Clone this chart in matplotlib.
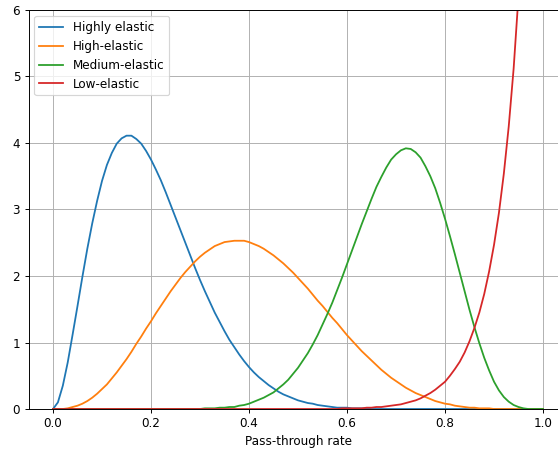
import numpy as np
import matplotlib
matplotlib.use('Agg')
import matplotlib.pyplot as plt

# pass-through rate grid, step 0.01 from 0 to 1
rate = np.linspace(0, 1, 101)

highly_elastic = [
    0.00, 0.10, 0.35, 0.70, 1.12, 1.55, 1.99, 2.41, 2.79, 3.13,
    3.43, 3.67, 3.85, 3.99, 4.07, 4.11, 4.11, 4.06, 3.99, 3.88,
    3.75, 3.60, 3.44, 3.26, 3.07, 2.88, 2.69, 2.50, 2.31, 2.12,
    1.94, 1.77, 1.61, 1.45, 1.31, 1.17, 1.04, 0.93, 0.82, 0.72,
    0.63, 0.55, 0.48, 0.42, 0.36, 0.31, 0.26, 0.22, 0.19, 0.16,
    0.13, 0.11, 0.09, 0.08, 0.06, 0.05, 0.04, 0.03, 0.02, 0.02,
    0.02, 0.01, 0.01, 0.01, 0.01, 0.00, 0.00, 0.00, 0.00, 0.00,
    0.00, 0.00, 0.00, 0.00, 0.00, 0.00, 0.00, 0.00, 0.00, 0.00,
    0.00, 0.00, 0.00, 0.00, 0.00, 0.00, 0.00, 0.00, 0.00, 0.00,
    0.00, 0.00, 0.00, 0.00, 0.00, 0.00, 0.00, 0.00, 0.00, 0.00,
    0.00,
]

high_elastic = [
    0.00, 0.00, 0.00, 0.01, 0.03, 0.05, 0.08, 0.12, 0.17, 0.23,
    0.30, 0.37, 0.46, 0.55, 0.65, 0.75, 0.86, 0.98, 1.09, 1.21,
    1.32, 1.44, 1.55, 1.66, 1.77, 1.87, 1.97, 2.06, 2.14, 2.22,
    2.29, 2.35, 2.40, 2.45, 2.48, 2.51, 2.52, 2.53, 2.53, 2.53,
    2.51, 2.48, 2.45, 2.41, 2.36, 2.31, 2.25, 2.19, 2.12, 2.05,
    1.97, 1.89, 1.81, 1.72, 1.63, 1.55, 1.46, 1.37, 1.29, 1.20,
    1.11, 1.03, 0.95, 0.87, 0.80, 0.73, 0.66, 0.59, 0.53, 0.47,
    0.42, 0.37, 0.32, 0.28, 0.24, 0.21, 0.18, 0.15, 0.12, 0.10,
    0.08, 0.07, 0.05, 0.04, 0.03, 0.02, 0.02, 0.01, 0.01, 0.01,
    0.00, 0.00, 0.00, 0.00, 0.00, 0.00, 0.00, 0.00, 0.00, 0.00,
    0.00,
]

medium_elastic = [
    0.00, 0.00, 0.00, 0.00, 0.00, 0.00, 0.00, 0.00, 0.00, 0.00,
    0.00, 0.00, 0.00, 0.00, 0.00, 0.00, 0.00, 0.00, 0.00, 0.00,
    0.00, 0.00, 0.00, 0.00, 0.00, 0.00, 0.00, 0.00, 0.00, 0.00,
    0.00, 0.01, 0.01, 0.01, 0.02, 0.02, 0.03, 0.03, 0.05, 0.06,
    0.08, 0.11, 0.14, 0.17, 0.21, 0.25, 0.31, 0.37, 0.44, 0.53,
    0.62, 0.73, 0.84, 0.97, 1.11, 1.27, 1.43, 1.60, 1.79, 1.98,
    2.18, 2.38, 2.58, 2.78, 2.97, 3.16, 3.34, 3.49, 3.63, 3.75,
    3.83, 3.89, 3.92, 3.91, 3.86, 3.78, 3.65, 3.50, 3.32, 3.10,
    2.86, 2.60, 2.33, 2.05, 1.77, 1.49, 1.23, 0.99, 0.77, 0.58,
    0.41, 0.28, 0.18, 0.11, 0.06, 0.03, 0.01, 0.00, 0.00, 0.00,
    0.00,
]

# low-elastic keeps rising past the top of the axes, so it stops at 0.96
low_elastic = [
    0.00, 0.00, 0.00, 0.00, 0.00, 0.00, 0.00, 0.00, 0.00, 0.00,
    0.00, 0.00, 0.00, 0.00, 0.00, 0.00, 0.00, 0.00, 0.00, 0.00,
    0.00, 0.00, 0.00, 0.00, 0.00, 0.00, 0.00, 0.00, 0.00, 0.00,
    0.00, 0.00, 0.00, 0.00, 0.00, 0.00, 0.00, 0.00, 0.00, 0.00,
    0.00, 0.00, 0.00, 0.00, 0.00, 0.00, 0.00, 0.00, 0.00, 0.00,
    0.00, 0.00, 0.00, 0.00, 0.00, 0.00, 0.00, 0.00, 0.00, 0.01,
    0.01, 0.01, 0.01, 0.01, 0.02, 0.02, 0.03, 0.03, 0.04, 0.05,
    0.06, 0.07, 0.09, 0.11, 0.13, 0.16, 0.20, 0.24, 0.29, 0.35,
    0.41, 0.50, 0.60, 0.71, 0.85, 1.02, 1.22, 1.45, 1.73, 2.07,
    2.47, 2.95, 3.54, 4.25, 5.12, 6.22, 7.63,
]

series = [
    ('Highly elastic', highly_elastic),
    ('High-elastic', high_elastic),
    ('Medium-elastic', medium_elastic),
    ('Low-elastic', low_elastic),
]

dpi = 86
fig = plt.figure(figsize=(558 / dpi, 450 / dpi), dpi=dpi)
# axes run a little past the right edge of the figure
ax = fig.add_axes([0.0511, 0.0911, 0.966, 0.8867])

for name, vals in series:
    ax.plot(rate[:len(vals)], vals, label=name)

ax.set_xlim(-0.05, 1.05)
ax.set_ylim(0, 6)
ax.set_xlabel('Pass-through rate')
ax.grid(True)
ax.legend(loc='upper left')

fig.savefig('out.png', dpi=dpi)
